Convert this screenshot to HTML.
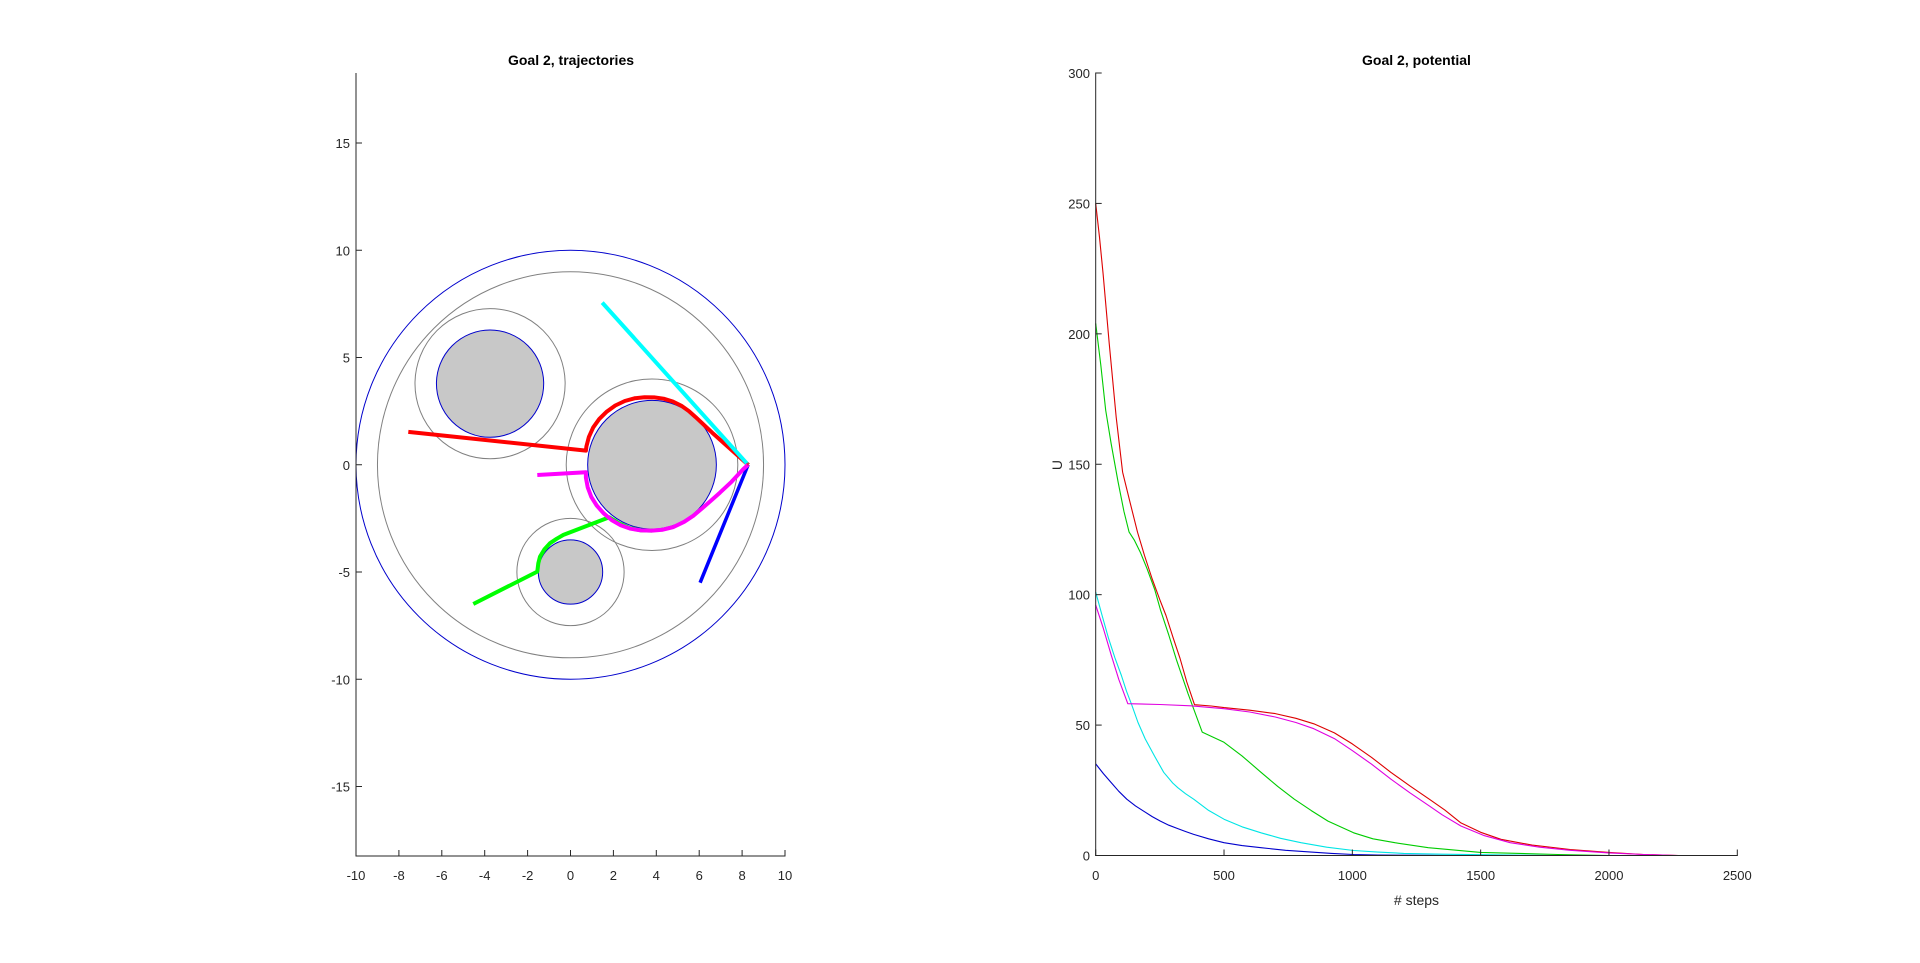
<!DOCTYPE html>
<html><head><meta charset="utf-8"><style>
html,body{margin:0;padding:0;background:#fff;}
svg{display:block;font-family:"Liberation Sans",Arial,sans-serif;}
</style></head><body>
<svg id="fig" width="1920" height="963" viewBox="0 0 1920 963">
<g id="left"></g>
<g id="right"></g>
</svg>
<script>
// ---------- Left plot data ----------
const xTicksL = [-10,-8,-6,-4,-2,0,2,4,6,8,10];
const yTicksL = [-15,-10,-5,0,5,10,15];
const obsCx = [-3.75, 3.8, 0];
const obsCy = [3.78, 0, -5];
const obsR = [2.5, 3, 1.5];
const obsInfl = [3.5, 4, 2.5];
const worldR = 10, worldInfl = 9;
const goal = [8.28, 0];
const trajRedX = [-7.56, 0.72, 0.74, 0.86, 1.06, 1.34, 1.69, 2.09, 2.53, 2.99, 3.45, 3.9, 4.34, 4.77, 5.17, 5.52, 5.83, 6.6, 8.28];
const trajRedY = [1.53, 0.66, 0.85, 1.3, 1.74, 2.13, 2.48, 2.76, 2.97, 3.1, 3.15, 3.14, 3.08, 2.95, 2.75, 2.5, 2.22, 1.5, 0];
const trajGreenX = [-4.53, -1.55, -1.5, -1.42, -1.22, -0.96, -0.65, -0.33, 1.81, 2.3, 2.74, 3.3, 3.8];
const trajGreenY = [-6.49, -4.98, -4.6, -4.28, -3.95, -3.66, -3.45, -3.27, -2.45, -2.75, -2.95, -3.06, -3.07];
const trajBlueX = [6.04, 8.28];
const trajBlueY = [-5.5, 0];
const trajCyanX = [1.48, 8.28];
const trajCyanY = [7.56, 0];
const trajMagX = [-1.55, 0.72, 0.72, 0.8, 0.97, 1.22, 1.54, 1.92, 2.34, 2.8, 3.28, 3.8, 4.3, 4.8, 5.3, 5.75, 6.15, 6.55, 6.97, 7.5, 8.06, 8.28];
const trajMagY = [-0.48, -0.35, -0.6, -1.05, -1.5, -1.9, -2.26, -2.58, -2.82, -2.98, -3.06, -3.07, -3.03, -2.9, -2.66, -2.36, -2.02, -1.67, -1.3, -0.8, -0.2, 0];

// ---------- Right plot data ----------
const xTicksR = [0,500,1000,1500,2000,2500];
const yTicksR = [0,50,100,150,200,250,300];
const blueSteps = [0,30,60,90,121,155,190,220,252,285,320,350,382,440,500,570,644,740,840,920,1005,1100,1200,1400,2500];
const blueVals  = [35.1,31.4,28,24.6,21.6,19,16.8,14.9,13.2,11.6,10.3,9.2,8.1,6.4,4.9,3.8,3,2,1.3,0.8,0.4,0.2,0.1,0,0];
const cyanSteps = [0,25,50,75,100,120,141,165,193,230,265,300,320,350,382,440,500,570,644,720,800,900,1005,1100,1200,1350,1500,1800,2500];
const cyanVals  = [101,92,83.3,75.8,69,63,57.6,51,44.7,38,31.9,27.8,26,23.7,21.6,17.3,13.9,11,8.7,6.6,4.9,3.2,1.9,1.3,0.8,0.5,0.3,0,0];
const magSteps = [0,30,60,90,125,250,370,500,600,700,780,850,930,1000,1075,1150,1225,1300,1350,1423,1515,1615,1730,1849,2000,2135,2270,2500];
const magVals  = [96,87,77,67.5,58.2,57.9,57.4,56.3,55,53.1,51,48.6,44.8,40.2,35,29.3,24,19,15.6,11.3,7.6,4.9,3.2,2,1,0.4,0,0];
const redSteps = [0,15,29,53,80,105,135,163,190,220,250,274,300,329,355,385,450,500,600,700,780,850,930,1000,1075,1150,1225,1300,1360,1423,1500,1579,1700,1849,2000,2135,2270,2500];
const redVals  = [250,237,223,196,168,147,135,124,115,106,98,92,84,75.5,66.5,57.8,57.3,56.7,55.7,54.4,52.6,50.5,47,42.8,37.6,31.9,26.6,21.6,17.5,12.5,8.9,6.2,4,2.3,1.2,0.4,0,0];
const greenSteps = [0,20,39,60,87,110,130,150,175,200,230,253,285,315,360,415,500,570,644,710,774,840,905,1005,1080,1166,1296,1500,1800,2000,2500];
const greenVals  = [204,188,170.7,158,143.4,132,124,121,116,110,102,94,84.5,75,62,47.3,43.4,38.2,31.9,26.4,21.6,17.2,13.2,8.7,6.4,4.9,3,1.2,0.4,0,0];

const NS = "http://www.w3.org/2000/svg";
function mk(parent, tag, attrs){
  const e = document.createElementNS(NS, tag);
  for (const k in attrs) e.setAttribute(k, attrs[k]);
  parent.appendChild(e);
  return e;
}
const tickColor = "#262626";

// ----- Left axes -----
const L = document.getElementById('left');
const lx = v => 570.5 + v * 21.45;
const ly = v => 464.75 - v * 21.45;
const LS = 21.45;

let c = mk(L, 'circle', {cx: lx(0), cy: ly(0), r: worldR*LS, fill: 'none', stroke: '#0000cc', 'stroke-width': 1});


c = mk(L, 'circle', {cx: lx(0), cy: ly(0), r: worldInfl*LS, fill: 'none', stroke: '#808080', 'stroke-width': 1});


for (let i = 0; i < obsCx.length; i++) {
  let g = mk(L, 'circle', {cx: lx(obsCx[i]), cy: ly(obsCy[i]), r: obsInfl[i]*LS, fill: 'none', stroke: '#808080', 'stroke-width': 1});
  
  
  let o = mk(L, 'circle', {cx: lx(obsCx[i]), cy: ly(obsCy[i]), r: obsR[i]*LS, fill: '#c8c8c8', stroke: '#0000cc', 'stroke-width': 1});
  
  
}
function trajLine(xs, ys, color, name, w){
  const pts = xs.map((x,i)=>lx(x).toFixed(1)+','+ly(ys[i]).toFixed(1)).join(' ');
  const p = mk(L, 'polyline', {points: pts, fill: 'none', stroke: color, 'stroke-width': w, 'stroke-linejoin': 'round', 'stroke-linecap': 'butt'});
  
  
}
trajLine(trajGreenX, trajGreenY, '#00ff00', 'trajectory-green', 4);
trajLine(trajRedX, trajRedY, '#ff0000', 'trajectory-red', 4);
trajLine(trajBlueX, trajBlueY, '#0000ff', 'trajectory-blue', 3.5);
trajLine(trajCyanX, trajCyanY, '#00ffff', 'trajectory-cyan', 4);
trajLine(trajMagX, trajMagY, '#ff00ff', 'trajectory-magenta', 4);
let gm = mk(L, 'text', {x: lx(goal[0]), y: ly(goal[1])+4, 'font-size': 10, fill: '#ff0000', 'text-anchor': 'middle'});
gm.textContent = '*';



let a = mk(L, 'line', {x1: 356, y1: 73, x2: 356, y2: 856.5, stroke: tickColor, 'stroke-width': 1});


a = mk(L, 'line', {x1: 355.5, y1: 856, x2: 785.5, y2: 856, stroke: tickColor, 'stroke-width': 1});


xTicksL.forEach(t => {
  const x = lx(t);
  const tk = mk(L, 'line', {x1: x, y1: 856, x2: x, y2: 850, stroke: tickColor, 'stroke-width': 1});
  
  
  const tl = mk(L, 'text', {x: x, y: 880, 'font-size': 13, fill: tickColor, 'text-anchor': 'middle'});
  tl.textContent = t;
  
  
});
yTicksL.forEach(t => {
  const y = ly(t);
  const tk = mk(L, 'line', {x1: 356, y1: y, x2: 362, y2: y, stroke: tickColor, 'stroke-width': 1});
  
  
  const tl = mk(L, 'text', {x: 350, y: y+5, 'font-size': 13, fill: tickColor, 'text-anchor': 'end'});
  tl.textContent = t;
  
  
});
let tt = mk(L, 'text', {x: 571, y: 65, 'font-size': 14, 'font-weight': 'bold', fill: '#000', 'text-anchor': 'middle'});
tt.textContent = 'Goal 2, trajectories';



// ----- Right axes -----
const R = document.getElementById('right');
const rx = v => 1095.7 + v * 0.25664;
const ry = v => 855.5 - v * 2.6083;
function potLine(xs, ys, color, name){
  const pts = xs.map((x,i)=>rx(x).toFixed(1)+','+ry(ys[i]).toFixed(1)).join(' ');
  const p = mk(R, 'polyline', {points: pts, fill: 'none', stroke: color, 'stroke-width': 1.1, 'stroke-linejoin': 'round'});
  
  
}
potLine(blueSteps, blueVals, '#0000cc', 'potential-blue');
potLine(cyanSteps, cyanVals, '#00e5e5', 'potential-cyan');
potLine(greenSteps, greenVals, '#00cc00', 'potential-green');
potLine(redSteps, redVals, '#dd0000', 'potential-red');
potLine(magSteps, magVals, '#e000e0', 'potential-magenta');

a = mk(R, 'line', {x1: 1095.7, y1: 72.5, x2: 1095.7, y2: 856, stroke: tickColor, 'stroke-width': 1});


a = mk(R, 'line', {x1: 1095.2, y1: 855.5, x2: 1737.8, y2: 855.5, stroke: tickColor, 'stroke-width': 1});


xTicksR.forEach(t => {
  const x = rx(t);
  const tk = mk(R, 'line', {x1: x, y1: 855.5, x2: x, y2: 849.5, stroke: tickColor, 'stroke-width': 1});
  
  
  const tl = mk(R, 'text', {x: x, y: 880, 'font-size': 13, fill: tickColor, 'text-anchor': 'middle'});
  tl.textContent = t;
  
  
});
yTicksR.forEach(t => {
  const y = ry(t);
  const tk = mk(R, 'line', {x1: 1095.7, y1: y, x2: 1101.7, y2: y, stroke: tickColor, 'stroke-width': 1});
  
  
  const tl = mk(R, 'text', {x: 1090, y: y+5, 'font-size': 13, fill: tickColor, 'text-anchor': 'end'});
  tl.textContent = t;
  
  
});
tt = mk(R, 'text', {x: 1416.5, y: 65, 'font-size': 14, 'font-weight': 'bold', fill: '#000', 'text-anchor': 'middle'});
tt.textContent = 'Goal 2, potential';


let xl = mk(R, 'text', {x: 1416.5, y: 905, 'font-size': 14, fill: tickColor, 'text-anchor': 'middle'});
xl.textContent = '# steps';


let yl = mk(R, 'text', {x: 0, y: 0, 'font-size': 14, fill: tickColor, 'text-anchor': 'middle', transform: 'translate(1062,465) rotate(-90)'});
yl.textContent = 'U';


</script>
</body></html>
